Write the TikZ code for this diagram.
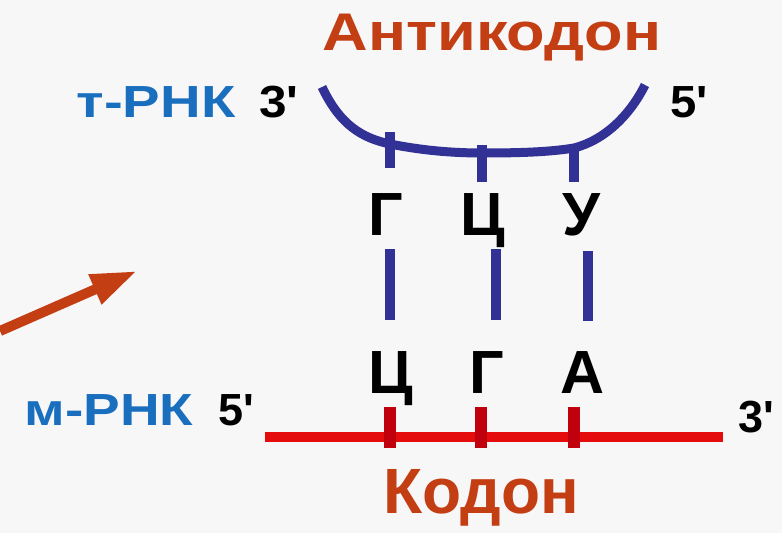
\documentclass[tikz,border=0pt]{standalone}
\usepackage{fontspec}
\setmainfont{Liberation Sans}
\usetikzlibrary{arrows.meta}
\definecolor{bg}{RGB}{247,247,247}
\definecolor{rnablue}{RGB}{25,110,190}
\definecolor{strandblue}{RGB}{50,50,150}
\definecolor{mred}{RGB}{228,12,12}
\definecolor{mtick}{RGB}{192,0,12}
\definecolor{orng}{RGB}{196,62,20}
\newcommand{\pr}{\textquotesingle}
\begin{document}
\begin{tikzpicture}[x=1pt,y=-1pt,
  txt/.style={inner sep=0pt, anchor=base},
  big/.style={txt, font=\fontsize{53}{60}\selectfont\bfseries},
  bigger/.style={txt, font=\fontsize{64}{70}\selectfont\bfseries},
  mid/.style={txt, font=\fontsize{45}{50}\selectfont\bfseries},
  base/.style={txt, font=\fontsize{61}{66}\selectfont\bfseries},
  trna/.style={line width=9pt, strandblue},
  btick/.style={line width=10pt, strandblue},
  mrna/.style={line width=10pt, mred},
  rtick/.style={line width=12pt, mtick},
  bond/.style={line width=10pt, strandblue},
  pointer/.style={line width=10pt, orng, -{Triangle[length=46pt,width=30pt]}}]
\fill[bg] (0,0) rectangle (782,533);
\useasboundingbox (0,0) rectangle (782,533);
% titles
\node[big, text=orng] (anti) at (492,50) {\scalebox{1.19}[1]{Антикодон}};
\node[bigger, text=orng] (kod) at (481,513) {Кодон};
% strand labels
\node[mid, text=rnablue] (tlab) at (156,117) {\scalebox{1.25}[1]{т-РНК}};
\node[mid] (t3) at (279,117) {\scalebox{1.1}[1]{3\pr}};
\node[mid] (t5) at (689,117) {\scalebox{1.05}[1]{5\pr}};
\node[mid, text=rnablue] (mlab) at (109,425) {\scalebox{1.22}[1]{м-РНК}};
\node[mid] (m5) at (236,425) {5\pr};
\node[mid] (m3) at (756,432) {3\pr};
% bases
\node[base] (a1) at (386,235) {Г};
\node[base] (a2) at (483,235) {Ц};
\node[base] (a3) at (581,235) {У};
\node[base] (c1) at (391,393) {Ц};
\node[base] (c2) at (487,393) {Г};
\node[base] (c3) at (583,393) {А};
% tRNA loop
\draw[trna] (322,87) .. controls (340,125) and (362,138) .. (390,144)
  .. controls (420,150) and (450,153) .. (482,153)
  .. controls (520,153) and (550,152) .. (574,148)
  .. controls (605,140) and (630,115) .. (645,85);
\coordinate (u1) at (390,132); \coordinate (d1) at (390,168);
\coordinate (u2) at (482,145); \coordinate (d2) at (482,182);
\coordinate (u3) at (574,146); \coordinate (d3) at (574,182);
\draw[btick] (u1) -- (d1);
\draw[btick] (u2) -- (d2);
\draw[btick] (u3) -- (d3);
% bonds
\coordinate (b1t) at (390,249); \coordinate (b1b) at (390,320);
\coordinate (b2t) at (496,249); \coordinate (b2b) at (496,320);
\coordinate (b3t) at (588,251); \coordinate (b3b) at (588,321);
\draw[bond] (b1t) -- (b1b);
\draw[bond] (b2t) -- (b2b);
\draw[bond] (b3t) -- (b3b);
% mRNA
\coordinate (ms) at (265,437); \coordinate (me) at (723,437);
\draw[mrna] (ms) -- (me);
\coordinate (r1t) at (390,407); \coordinate (r1b) at (390,448);
\coordinate (r2t) at (481,407); \coordinate (r2b) at (481,448);
\coordinate (r3t) at (574,407); \coordinate (r3b) at (574,448);
\draw[rtick] (r1t) -- (r1b);
\draw[rtick] (r2t) -- (r2b);
\draw[rtick] (r3t) -- (r3b);
% arrow
\coordinate (as) at (0,331); \coordinate (ae) at (137,271);
\draw[pointer] (as) -- (ae);
\end{tikzpicture}
\end{document}
